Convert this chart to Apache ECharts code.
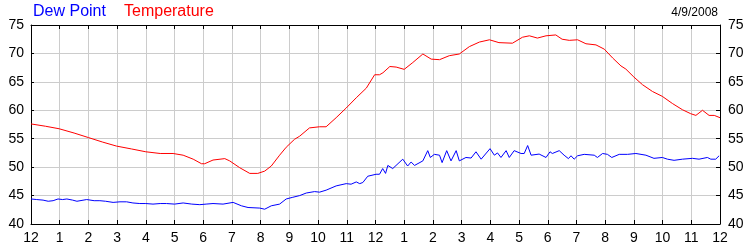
<!DOCTYPE html>
<html>
<head>
<meta charset="utf-8">
<script src="https://cdn.jsdelivr.net/npm/echarts@6/dist/echarts.min.js"></script>
<style>
html,body{margin:0;padding:0;background:#fff;}
#chart{width:750px;height:250px;}
</style>
</head>
<body>
<div id="chart"></div>
<script>
// Hour-of-day tick labels (0..24)
const hourLabels = ['12','1','2','3','4','5','6','7','8','9','10','11','12','1','2','3','4','5','6','7','8','9','10','11','12'];

// Temperature: times (hours since midnight) and values (°F)
const tempHours = [0,0.5,0.98,1.5,2.0,2.5,2.98,3.5,4.0,4.5,4.95,5.3,5.65,5.94,6.05,6.34,6.75,6.92,7.27,7.62,7.9,8.14,8.37,8.66,8.89,9.18,9.36,9.7,10.05,10.28,10.63,10.98,11.33,11.68,11.97,12.14,12.26,12.5,12.72,13.0,13.3,13.65,13.94,14.23,14.57,14.92,15.27,15.62,15.97,16.3,16.77,17.12,17.36,17.64,17.94,18.28,18.5,18.75,19.04,19.33,19.68,19.97,20.26,20.55,20.72,21.0,21.3,21.65,21.99,22.34,22.69,22.98,23.16,23.39,23.62,23.8,24];
const tempValues = [57.6,57.2,56.75,56.0,55.2,54.4,53.7,53.2,52.7,52.4,52.4,52.1,51.4,50.6,50.6,51.25,51.5,51.1,49.9,48.9,48.9,49.3,50.2,52.1,53.5,54.9,55.45,56.9,57.1,57.1,58.7,60.4,62.2,63.9,66.25,66.25,66.6,67.7,67.6,67.2,68.4,69.9,69.0,68.9,69.6,69.9,71.2,72.0,72.4,71.9,71.8,72.85,73.1,72.7,73.1,73.25,72.5,72.3,72.4,71.7,71.5,70.75,69.2,67.8,67.25,65.85,64.5,63.3,62.45,61.2,60.1,59.4,59.1,60.0,59.1,59.1,58.7];

// Dew point: times and values
const dewHours = [0,0.2,0.42,0.6,0.77,0.94,1.1,1.25,1.45,1.6,1.94,2.2,2.4,2.6,2.86,3.1,3.33,3.55,3.79,4.0,4.25,4.5,4.72,5.0,5.3,5.6,5.88,6.1,6.34,6.69,7.04,7.33,7.56,7.97,8.14,8.37,8.66,8.89,9.12,9.36,9.59,9.88,10.05,10.28,10.63,10.98,11.15,11.33,11.45,11.56,11.73,11.79,12.02,12.14,12.25,12.35,12.43,12.6,12.95,13.12,13.24,13.36,13.65,13.82,13.91,14.05,14.23,14.32,14.48,14.63,14.81,14.92,15.15,15.33,15.5,15.68,15.99,16.14,16.25,16.37,16.55,16.66,16.83,17.07,17.18,17.3,17.42,17.7,17.94,18.08,18.16,18.4,18.57,18.72,18.81,18.92,19.04,19.27,19.62,19.73,19.91,20.08,20.23,20.49,20.78,21.07,21.42,21.7,21.99,22.17,22.4,22.69,23.04,23.27,23.56,23.68,23.85,23.97];
const dewValues = [44.4,44.3,44.2,44.0,44.1,44.4,44.3,44.4,44.2,44.0,44.3,44.1,44.1,44.0,43.8,43.9,43.9,43.7,43.6,43.6,43.5,43.6,43.6,43.5,43.7,43.5,43.4,43.5,43.6,43.5,43.8,43.2,42.9,42.8,42.6,43.2,43.5,44.4,44.7,45.0,45.45,45.7,45.6,45.95,46.7,47.1,47.0,47.4,47.1,47.3,48.4,48.2,48.75,48.75,49.75,48.9,50.3,49.75,51.4,50.2,50.9,50.3,51.1,52.9,51.7,52.25,52.1,50.8,52.9,51.1,52.9,51.1,51.7,51.6,52.7,51.4,53.25,52.1,52.5,51.7,52.9,51.7,52.9,52.4,52.4,53.8,52.1,52.3,51.7,52.7,52.4,52.9,52.1,51.5,52.0,51.4,52.0,52.25,52.1,51.7,52.4,52.25,51.7,52.25,52.25,52.4,52.1,51.55,51.7,51.4,51.2,51.4,51.55,51.4,51.7,51.4,51.4,52.0];

const pair = (xs, ys) => xs.map((x, i) => [x, ys[i]]);

const font = 'Liberation Sans, Arial, sans-serif';
const chart = echarts.init(document.getElementById('chart'), null, {renderer: 'canvas'});
const axisLabelStyle = {color: '#000', fontSize: 14, fontFamily: font};
chart.setOption({
  animation: false,
  backgroundColor: '#fff',
  title: [
    {text: 'Dew Point', left: 28, top: 4, padding: [0, 5, 0, 5], textStyle: {color: '#0000ff', fontSize: 16, fontWeight: 'normal', fontFamily: font}},
    {text: 'Temperature', left: 119, top: 4, padding: [0, 5, 0, 5], textStyle: {color: '#ff0000', fontSize: 16, fontWeight: 'normal', fontFamily: font}},
    {text: '4/9/2008', right: 27, top: 7, padding: [0, 5, 0, 5], textStyle: {color: '#000', fontSize: 12, fontWeight: 'normal', fontFamily: font}}
  ],
  grid: {left: 31, right: 30, top: 25, bottom: 26, containLabel: false},
  xAxis: [
    {
      type: 'value', min: 0, max: 24, interval: 1, position: 'bottom',
      axisLine: {onZero: false, lineStyle: {color: '#000', width: 1}},
      axisTick: {inside: true, length: 4, lineStyle: {color: '#000'}},
      axisLabel: Object.assign({margin: 7, formatter: v => hourLabels[Math.round(v)]}, axisLabelStyle),
      splitLine: {show: true, lineStyle: {color: '#cccccc', width: 1}}
    },
    {
      type: 'value', min: 0, max: 24, interval: 1, position: 'top',
      axisLine: {onZero: false, lineStyle: {color: '#000', width: 1}},
      axisTick: {inside: true, length: 4, lineStyle: {color: '#000'}},
      axisLabel: {show: false},
      splitLine: {show: false}
    }
  ],
  yAxis: [
    {
      type: 'value', min: 40, max: 75, interval: 5, position: 'left',
      axisLine: {show: true, onZero: false, lineStyle: {color: '#000', width: 1}},
      axisTick: {show: true, inside: true, length: 3, lineStyle: {color: '#000'}},
      axisLabel: Object.assign({margin: 7}, axisLabelStyle),
      splitLine: {show: true, lineStyle: {color: '#cccccc', width: 1}}
    },
    {
      type: 'value', min: 40, max: 75, interval: 5, position: 'right',
      axisLine: {show: true, onZero: false, lineStyle: {color: '#000', width: 1}},
      axisTick: {show: true, inside: true, length: 4, lineStyle: {color: '#000'}},
      axisLabel: Object.assign({margin: 8}, axisLabelStyle),
      splitLine: {show: false}
    }
  ],
  series: [
    {name: 'Temperature', type: 'line', data: pair(tempHours, tempValues), showSymbol: false, symbol: 'none',
     lineStyle: {color: '#ff0000', width: 1}, itemStyle: {color: '#ff0000'}},
    {name: 'Dew Point', type: 'line', data: pair(dewHours, dewValues), showSymbol: false, symbol: 'none',
     lineStyle: {color: '#0000ff', width: 1}, itemStyle: {color: '#0000ff'}}
  ]
});
</script>
</body>
</html>
